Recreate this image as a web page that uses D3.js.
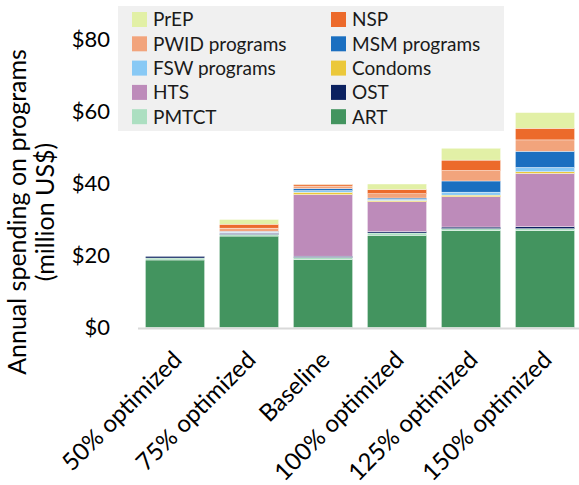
<!DOCTYPE html>
<html>
<head>
<meta charset="utf-8">
<script src="https://cdn.jsdelivr.net/npm/d3@7"></script>
<style>
  body { margin: 0; background: #fff; }
  svg { display: block; font-family: Lato, "Open Sans", sans-serif; }
</style>
</head>
<body>
<div id="chart"></div>
<script>
// scenarios on the x axis
const categories = ["50% optimized", "75% optimized", "Baseline", "100% optimized", "125% optimized", "150% optimized"];

// programs, bottom of the stack first
const programs = ["ART", "PMTCT", "OST", "HTS", "Condoms", "FSW programs", "MSM programs", "PWID programs", "NSP", "PrEP"];
const colors = ["#43945f", "#acdfc1", "#0b2160", "#bd8bba", "#ebc83a", "#88c9f5", "#1b6fc0", "#f2a47c", "#ec6a2b", "#e2f0a6"];

// spending, million US$
const art     = [18.75, 25.4, 18.9, 25.6, 26.9, 26.9];
const pmtct   = [0.55, 0.45, 0.55, 0.65, 0.55, 0.55];
const ost     = [0.45, 0.35, 0.37, 0.37, 0.46, 0.55];
const hts     = [0, 0.1, 17.1, 8.3, 8.4, 14.8];
const condoms = [0, 0.1, 0.65, 0.37, 0.46, 0.46];
const fsw     = [0, 0.1, 0.47, 0.3, 0.83, 1.2];
const msm     = [0, 0.2, 0.55, 0.37, 3.1, 4.5];
const pwid    = [0, 0.9, 0.7, 1.2, 2.9, 3.15];
const nsp     = [0, 1.1, 0.5, 1.2, 2.9, 3.24];
const prep    = [0, 1.3, 0.05, 1.5, 3.3, 4.35];

// legend, as it reads row by row
const legendOrder = ["PrEP", "NSP", "PWID programs", "MSM programs", "FSW programs", "Condoms", "HTS", "OST", "PMTCT", "ART"];

const yTicks = [0, 20, 40, 60, 80];

const width = 579, height = 485;

const svg = d3.select("#chart")
    .append("svg")
    .attr("width", width)
    .attr("height", height);

const series = [art, pmtct, ost, hts, condoms, fsw, msm, pwid, nsp, prep];
const table = categories.map((c, i) => {
    const row = { cat: c };
    programs.forEach((p, j) => { row[p] = series[j][i]; });
    return row;
});
const stacked = d3.stack().keys(programs)(table);

const x = d3.scaleBand()
    .domain(categories)
    .range([138, 582])
    .paddingInner(0.2)
    .paddingOuter(0.1);

const y = d3.scaleLinear()
    .domain([0, 80])
    .range([327.5, 39.5]);

const color = d3.scaleOrdinal().domain(programs).range(colors);

// bars
svg.append("g")
    .selectAll("g")
    .data(stacked)
    .join("g")
    .attr("fill", d => color(d.key))
    .selectAll("rect")
    .data(d => d)
    .join("rect")
    .attr("x", d => x(d.data.cat))
    .attr("y", d => y(d[1]))
    .attr("width", x.bandwidth())
    .attr("height", d => y(d[0]) - y(d[1]))
    .attr("stroke", "#fff")
    .attr("stroke-width", 0.4);

// x axis line
svg.append("line")
    .attr("x1", 138)
    .attr("x2", width)
    .attr("y1", y(0) + 1)
    .attr("y2", y(0) + 1)
    .attr("stroke", "#d9d9d9")
    .attr("stroke-width", 2);

// y tick labels
svg.append("g")
    .selectAll("text")
    .data(yTicks)
    .join("text")
    .attr("x", 110)
    .attr("y", d => y(d))
    .attr("dy", "0.36em")
    .attr("text-anchor", "end")
    .style("font-size", "22px")
    .style("fill", "#000")
    .text(d => "$" + d);

// x tick labels, rotated, top right corner near the bar centre
svg.append("g")
    .selectAll("text")
    .data(categories)
    .join("text")
    .attr("transform", d => `translate(${x(d) + x.bandwidth() / 2 - 4},349) rotate(-45)`)
    .attr("dy", "0.72em")
    .attr("text-anchor", "end")
    .style("font-size", "24px")
    .style("fill", "#000")
    .text(d => d);

// y axis title, two lines
const yTitle = svg.append("text")
    .attr("transform", "translate(17,212) rotate(-90)")
    .attr("text-anchor", "middle")
    .style("font-size", "25px")
    .style("fill", "#000");
yTitle.append("tspan").attr("x", 0).attr("dy", "0.35em").text("Annual spending on programs");
yTitle.append("tspan").attr("x", 0).attr("dy", "1.12em").text("(million US$)");

// legend
const legend = svg.append("g");
legend.append("rect")
    .attr("x", 118)
    .attr("y", 6)
    .attr("width", 386)
    .attr("height", 125)
    .attr("fill", "#f0f0f0");

const item = legend.selectAll("g.item")
    .data(legendOrder)
    .join("g")
    .attr("class", "item")
    .attr("transform", (d, i) => `translate(${i % 2 === 0 ? 132 : 331},${19.5 + Math.floor(i / 2) * 24.3})`);

item.append("rect")
    .attr("x", 0)
    .attr("y", -7.5)
    .attr("width", 15)
    .attr("height", 15)
    .attr("fill", d => color(d));

item.append("text")
    .attr("x", 21)
    .attr("dy", "0.36em")
    .style("font-size", "19px")
    .style("fill", "#1a1a1a")
    .text(d => d);
</script>
</body>
</html>
